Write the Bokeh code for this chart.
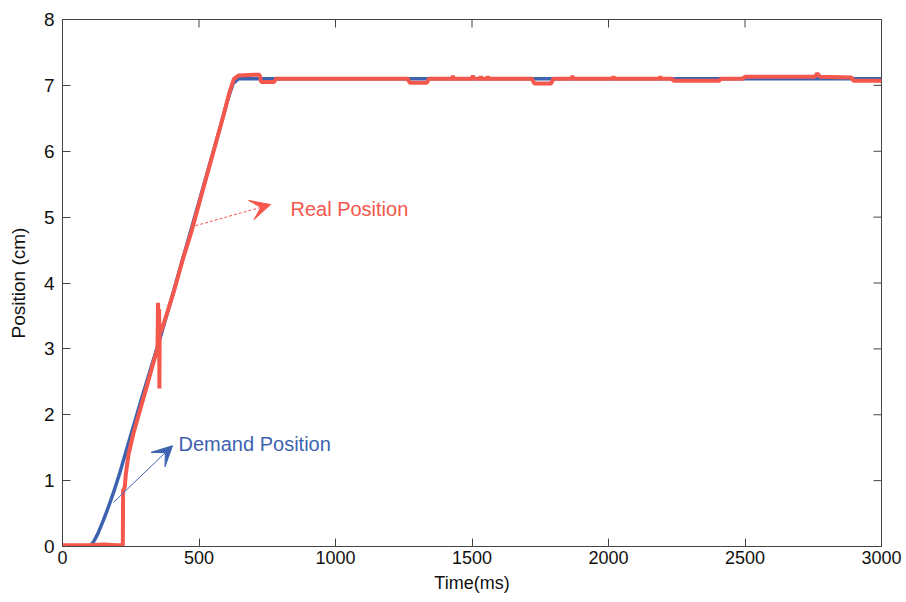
import math
from bokeh.plotting import figure
from bokeh.models import Range1d, FixedTicker, Arrow, VeeHead, Label
from bokeh.embed import file_html
from bokeh.resources import INLINE

# ---- data ----
demand_t = [0, 100, 115, 130, 150, 170, 190, 210, 240, 290, 360, 410, 460, 515, 570, 605, 625, 645, 3000]
demand_y = [0, 0, 0.08, 0.2, 0.4, 0.62, 0.86, 1.12, 1.55, 2.25, 3.2, 3.92, 4.65, 5.45, 6.25, 6.78, 7.03, 7.1, 7.1]

real_t = [0, 100, 150, 200, 221, 222, 228, 232, 242, 260, 286, 310, 330, 348, 350, 352, 354, 355, 356,
          360, 380, 410, 440, 470, 500, 530, 560, 590, 612, 628, 645, 700, 722, 728, 775, 782,
          1265, 1272, 1335, 1342, 1428, 1430, 1432, 1500, 1503, 1506, 1530, 1532, 1534, 1556, 1558, 1560,
          1720, 1728, 1790, 1798, 1866, 1868, 1870, 2016, 2018, 2020, 2188, 2190, 2192, 2232, 2238,
          2405, 2412, 2490, 2500, 2755, 2765, 2775, 2890, 2897, 3000]
real_y = [0.02, 0.02, 0.03, 0.02, 0.02, 0.85, 0.9, 1.1, 1.4, 1.72, 2.1, 2.45, 2.75, 3.0, 3.7, 3.15, 3.6, 2.4, 3.3,
          3.25, 3.5, 3.9, 4.35, 4.75, 5.2, 5.65, 6.1, 6.55, 6.9, 7.1, 7.15, 7.16, 7.16, 7.05, 7.05, 7.1,
          7.1, 7.04, 7.04, 7.1, 7.1, 7.15, 7.1, 7.1, 7.15, 7.1, 7.1, 7.14, 7.1, 7.1, 7.14, 7.1,
          7.1, 7.03, 7.03, 7.1, 7.1, 7.15, 7.1, 7.1, 7.14, 7.1, 7.1, 7.14, 7.1, 7.1, 7.07,
          7.07, 7.1, 7.1, 7.13, 7.13, 7.18, 7.13, 7.12, 7.07, 7.07]

x_ticks = [0, 500, 1000, 1500, 2000, 2500, 3000]
y_ticks = [0, 1, 2, 3, 4, 5, 6, 7, 8]
x_min, x_max = 0, 3000
y_min, y_max = 0, 8

RED = "#F4574C"
BLUE = "#3D63B0"
AX = "#444444"

p = figure(width=906, height=602, output_backend="svg", toolbar_location=None,
           x_range=Range1d(x_min, x_max), y_range=Range1d(y_min, y_max),
           min_border_left=62, min_border_right=25, min_border_top=19, min_border_bottom=56)
p.background_fill_color = "white"
p.border_fill_color = "white"
p.outline_line_color = AX
p.outline_line_width = 1
p.xgrid.visible = False
p.ygrid.visible = False

p.line(demand_t, demand_y, line_color=BLUE, line_width=3.5)
p.line(real_t, real_y, line_color=RED, line_width=4)

for ax, ticks in ((p.xaxis[0], x_ticks), (p.yaxis[0], y_ticks)):
    ax.ticker = FixedTicker(ticks=ticks)
    ax.major_tick_in = 8
    ax.major_tick_out = 0
    ax.minor_tick_line_color = None
    ax.axis_line_color = AX
    ax.major_tick_line_color = AX
    ax.major_label_text_color = "#111111"

p.xaxis.major_label_text_font = "Liberation Sans"
p.xaxis.major_label_text_font_size = "18px"
p.xaxis.major_label_standoff = 4
p.xaxis.axis_label = "Time(ms)"
p.xaxis.axis_label_text_font = "Liberation Sans"
p.xaxis.axis_label_text_font_size = "18px"
p.xaxis.axis_label_text_font_style = "normal"
p.xaxis.axis_label_text_color = "#111111"
p.xaxis.axis_label_standoff = 6

p.yaxis.major_label_text_font = "Liberation Sans"
p.yaxis.major_label_text_font_size = "19px"
p.yaxis.major_label_standoff = 8
p.yaxis.axis_label = "Position (cm)"
p.yaxis.axis_label_text_font = "Liberation Sans"
p.yaxis.axis_label_text_font_size = "19px"
p.yaxis.axis_label_text_font_style = "normal"
p.yaxis.axis_label_text_color = "#111111"
p.yaxis.axis_label_standoff = 12

# inward tick marks on the top and right frame edges (half of each dash is clipped by the frame)
p.scatter(x=x_ticks, y=[y_max] * len(x_ticks), marker="dash", angle=math.pi / 2,
          size=16, line_color=AX, line_width=1)
p.scatter(x=[x_max] * len(y_ticks), y=y_ticks, marker="dash",
          size=16, line_color=AX, line_width=1)

# annotations
p.add_layout(Arrow(x_start=487, y_start=4.87, x_end=762, y_end=5.19,
                   line_color=RED, line_width=1, line_dash="3 2",
                   end=VeeHead(size=20, fill_color=RED, line_color=RED)))
p.add_layout(Arrow(x_start=187, y_start=0.67, x_end=403, y_end=1.53,
                   line_color=BLUE, line_width=1,
                   end=VeeHead(size=20, fill_color=BLUE, line_color=BLUE)))
p.add_layout(Label(x=835, y=5.13, text="Real Position", text_color=RED,
                   text_font="Liberation Sans", text_font_size="20px", text_baseline="middle"))
p.add_layout(Label(x=425, y=1.56, text="Demand Position", text_color=BLUE,
                   text_font="Liberation Sans", text_font_size="20px", text_baseline="middle"))

open("out.html", "w").write(file_html(p, INLINE))
